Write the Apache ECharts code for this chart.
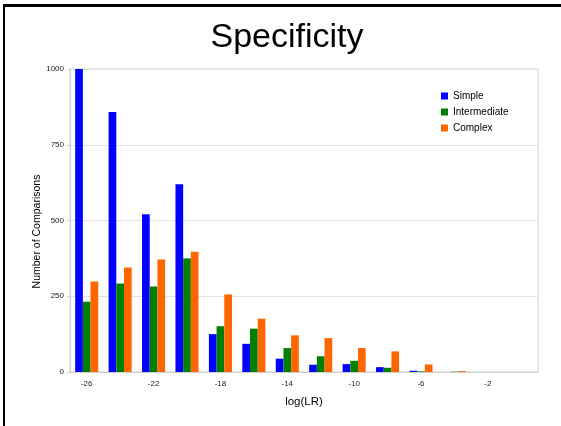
<!DOCTYPE html>
<html>
<head>
<meta charset="utf-8">
<title>Specificity</title>
<script src="https://cdn.jsdelivr.net/npm/echarts@6/dist/echarts.min.js"></script>
<style>
  html, body { margin: 0; padding: 0; background: #fff; }
  #chart { position: absolute; left: 0; top: 0; width: 561px; height: 426px; }
  #frame {
    position: absolute; left: 3px; top: 4px; right: 0; bottom: 0;
    border-top: 3px solid #000; border-left: 2px solid #000;
    pointer-events: none;
  }
</style>
</head>
<body>
<div id="chart"></div>
<div id="frame"></div>
<script>
// log(LR) bins
const categories = ['-26', '-24', '-22', '-20', '-18', '-16', '-14', '-12', '-10', '-8', '-6', '-4', '-2', '0'];

// Number of comparisons per bin
const simple       = [1000, 858, 521, 620, 125, 93, 44, 24, 26, 16, 4, 0, 0, 0];
const intermediate = [232, 292, 282, 375, 151, 143, 79, 52, 37, 14, 2, 1, 0, 0];
const complex      = [299, 345, 371, 397, 256, 176, 121, 112, 79, 68, 25, 3, 0, 0];

const yTicks = [0, 250, 500, 750, 1000];

const chart = echarts.init(document.getElementById('chart'), null, { renderer: 'canvas' });

const font = 'Liberation Sans, Arial, sans-serif';

chart.setOption({
  animation: false,
  backgroundColor: '#fff',
  title: {
    text: 'Specificity',
    left: 282,
    top: 16,
    textAlign: 'center',
    textStyle: { fontFamily: font, fontSize: 34, fontWeight: 'normal', color: '#000' }
  },
  legend: {
    orient: 'vertical',
    left: 436,
    top: 85,
    itemWidth: 7,
    itemHeight: 7,
    itemGap: 4,
    icon: 'rect',
    textStyle: { fontFamily: font, fontSize: 10, color: '#000', lineHeight: 12 },
    data: ['Simple', 'Intermediate', 'Complex']
  },
  grid: {
    left: 70, right: 23, top: 69, bottom: 54,
    show: true, borderColor: '#d0d0d0', borderWidth: 1
  },
  xAxis: {
    type: 'category',
    data: categories,
    name: 'log(LR)',
    nameLocation: 'middle',
    nameGap: 24,
    nameMoveOverlap: false,
    nameTextStyle: { fontFamily: font, fontSize: 11.5, color: '#000' },
    axisLine: { lineStyle: { color: '#d0d0d0' } },
    axisTick: { show: false },
    axisLabel: { interval: 1, fontFamily: font, fontSize: 8, color: '#222', margin: 8 }
  },
  yAxis: {
    type: 'value',
    min: yTicks[0],
    max: yTicks[yTicks.length - 1],
    interval: yTicks[1] - yTicks[0],
    name: 'Number of Comparisons',
    nameLocation: 'middle',
    nameGap: 27,
    nameMoveOverlap: false,
    nameTextStyle: { fontFamily: font, fontSize: 10.5, color: '#000', padding: [0, 0, 0, -22] },
    axisLine: { show: true, lineStyle: { color: '#d0d0d0' } },
    axisTick: { show: true, length: 3, lineStyle: { color: '#d0d0d0' } },
    axisLabel: { fontFamily: font, fontSize: 8, color: '#222', margin: 6, formatter: v => String(v) },
    splitLine: { lineStyle: { color: '#e2e2e2', width: 1 } }
  },
  series: [
    { name: 'Simple', type: 'bar', data: simple, barGap: '0%', barCategoryGap: '31%',
      itemStyle: { color: '#0000ff' } },
    { name: 'Intermediate', type: 'bar', data: intermediate, barGap: '0%', barCategoryGap: '31%',
      itemStyle: { color: '#008000' } },
    { name: 'Complex', type: 'bar', data: complex, barGap: '0%', barCategoryGap: '31%',
      itemStyle: { color: '#ff6600' } }
  ]
});
</script>
</body>
</html>
